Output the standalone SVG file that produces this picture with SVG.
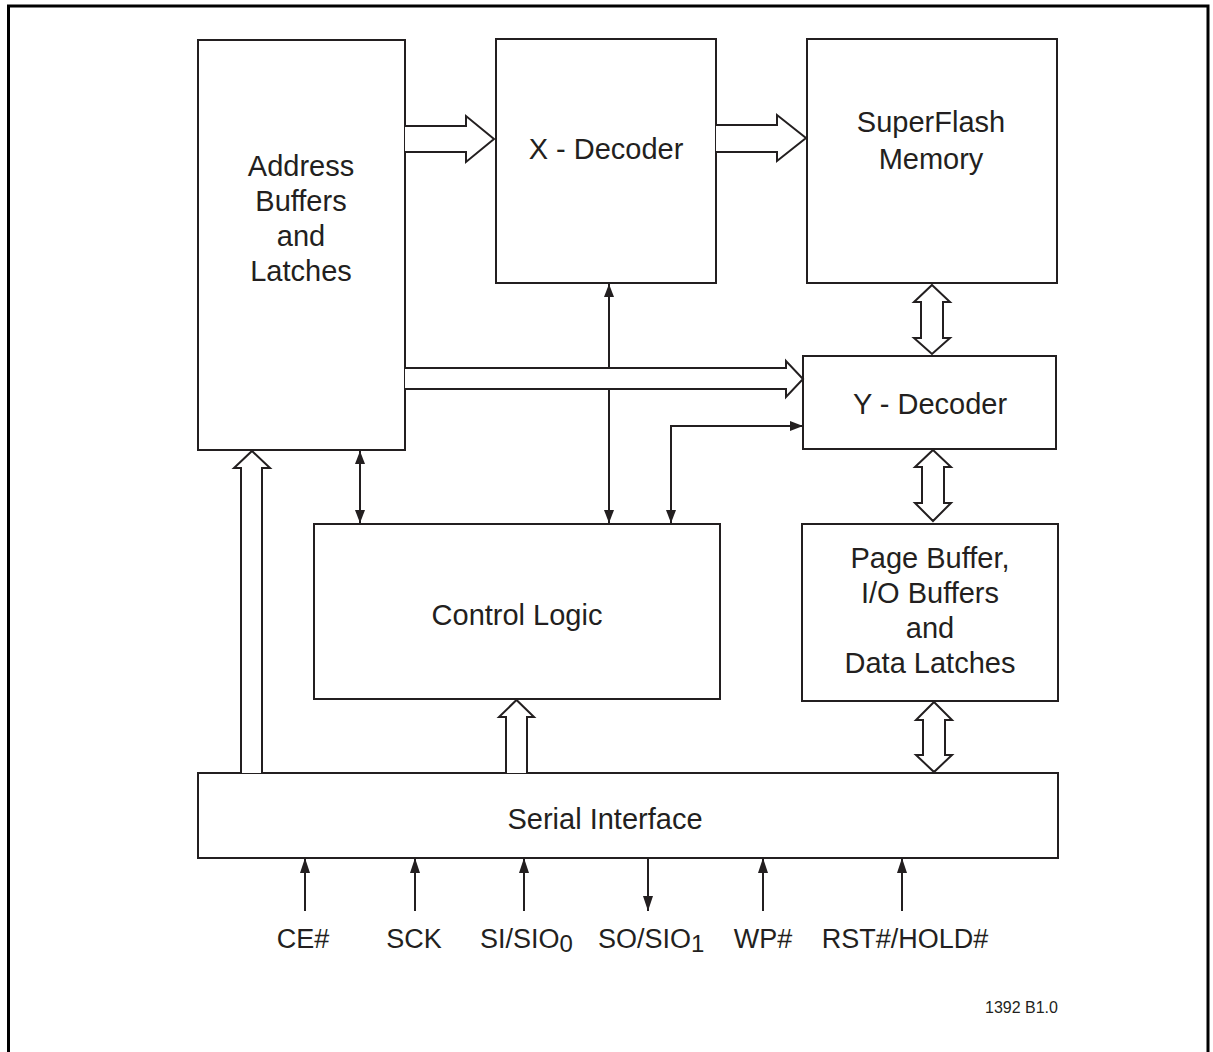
<svg xmlns="http://www.w3.org/2000/svg" width="1213" height="1052" viewBox="0 0 1213 1052">
<defs>
<style>
.box{fill:#fff;stroke:#231f20;stroke-width:2}
.ln{fill:none;stroke:#231f20;stroke-width:2}
.open{fill:#fff;stroke:#231f20;stroke-width:2;stroke-linejoin:miter}
.t{font-family:"Liberation Sans",Arial,Helvetica,sans-serif;font-size:29px;fill:#231f20;text-anchor:middle}
.s{font-family:"Liberation Sans",Arial,Helvetica,sans-serif;font-size:27px;fill:#231f20}
.m{text-anchor:middle}
.sub{font-size:24px}
.ref{font-family:"Liberation Sans",Arial,Helvetica,sans-serif;font-size:16px;fill:#231f20}
</style>
<marker id="ah" markerUnits="userSpaceOnUse" markerWidth="14" markerHeight="10" refX="13" refY="5" orient="auto-start-reverse" viewBox="0 0 14 10">
<path d="M0,0 L13,5 L0,10 z" fill="#231f20"/>
</marker>
<marker id="ahs" markerUnits="userSpaceOnUse" markerWidth="16" markerHeight="10" refX="15" refY="5" orient="auto-start-reverse" viewBox="0 0 16 10">
<path d="M0,0 L15,5 L0,10 z" fill="#231f20"/>
</marker>
</defs>
<rect width="1213" height="1052" fill="#fff"/>
<path d="M8.5,1052 V6 H1208 V1052" fill="none" stroke="#000" stroke-width="3"/>

<g id="address-buffers">
<rect class="box" x="198" y="40" width="207" height="410"/>
<text class="t" x="301" y="176">Address</text>
<text class="t" x="301" y="211">Buffers</text>
<text class="t" x="301" y="246">and</text>
<text class="t" x="301" y="281">Latches</text>
</g>
<g id="x-decoder">
<rect class="box" x="496" y="39" width="220" height="244"/>
<text class="t" x="606" y="159">X - Decoder</text>
</g>
<g id="superflash-memory">
<rect class="box" x="807" y="39" width="250" height="244"/>
<text class="t" x="931" y="132">SuperFlash</text>
<text class="t" x="931" y="169">Memory</text>
</g>
<g id="y-decoder">
<rect class="box" x="803" y="356" width="253" height="93"/>
<text class="t" x="930" y="414">Y - Decoder</text>
</g>
<g id="control-logic">
<rect class="box" x="314" y="524" width="406" height="175"/>
<text class="t" x="517" y="625">Control Logic</text>
</g>
<g id="page-buffer">
<rect class="box" x="802" y="524" width="256" height="177"/>
<text class="t" x="930" y="568">Page Buffer,</text>
<text class="t" x="930" y="603">I/O Buffers</text>
<text class="t" x="930" y="638">and</text>
<text class="t" x="930" y="673">Data Latches</text>
</g>
<g id="serial-interface">
<rect class="box" x="198" y="773" width="860" height="85"/>
<text class="t" x="605" y="829">Serial Interface</text>
</g>

<g id="connectors">
<!-- thin control lines -->
<line class="ln" x1="609" y1="284" x2="609" y2="523" marker-start="url(#ah)" marker-end="url(#ah)"/>
<polyline class="ln" points="671,523 671,426 803,426" marker-start="url(#ah)" marker-end="url(#ah)"/>
<line class="ln" x1="360" y1="451" x2="360" y2="523" marker-start="url(#ah)" marker-end="url(#ah)"/>
<!-- hollow bus arrows -->
<path class="open" d="M405,126 H466 V116 L494,139 L466,162 V152 H405"/>
<path class="open" d="M716,125 H777 V115 L806,138 L777,161 V152 H716"/>
<path class="open" d="M405,368 H786 V361 L803,379 L786,397 V389 H405"/>
<path class="open" d="M241,773 V468 H234 L252,451 L270,468 H262 V773"/>
<path class="open" d="M506,773 V717 H499 L516.5,700 L534,717 H527 V773"/>
<path class="open" d="M932,285 L950,302 H943 V338 H950 L932,354 L914,338 H921 V302 H914 Z"/>
<path class="open" d="M933,450 L951,467 H944 V503 H951 L933,521 L915,503 H922 V467 H915 Z"/>
<path class="open" d="M934,702 L952,720 H945 V755 H952 L934,772 L916,755 H923 V720 H916 Z"/>
<!-- pin arrows -->
<line class="ln" x1="305" y1="911" x2="305" y2="858" marker-end="url(#ahs)"/>
<line class="ln" x1="415" y1="911" x2="415" y2="858" marker-end="url(#ahs)"/>
<line class="ln" x1="524" y1="911" x2="524" y2="858" marker-end="url(#ahs)"/>
<line class="ln" x1="648" y1="858" x2="648" y2="911" marker-end="url(#ahs)"/>
<line class="ln" x1="763" y1="911" x2="763" y2="858" marker-end="url(#ahs)"/>
<line class="ln" x1="902" y1="911" x2="902" y2="858" marker-end="url(#ahs)"/>
</g>

<g id="pin-labels">
<text class="s m" x="303" y="948">CE#</text>
<text class="s m" x="414" y="948">SCK</text>
<text class="s" x="480" y="948">SI/SIO<tspan class="sub" dy="4">0</tspan></text>
<text class="s" x="598" y="948">SO/SIO<tspan class="sub" dy="4">1</tspan></text>
<text class="s m" x="763" y="948">WP#</text>
<text class="s m" x="905" y="948">RST#/HOLD#</text>
</g>
<text class="ref" x="985" y="1013">1392 B1.0</text>
</svg>
